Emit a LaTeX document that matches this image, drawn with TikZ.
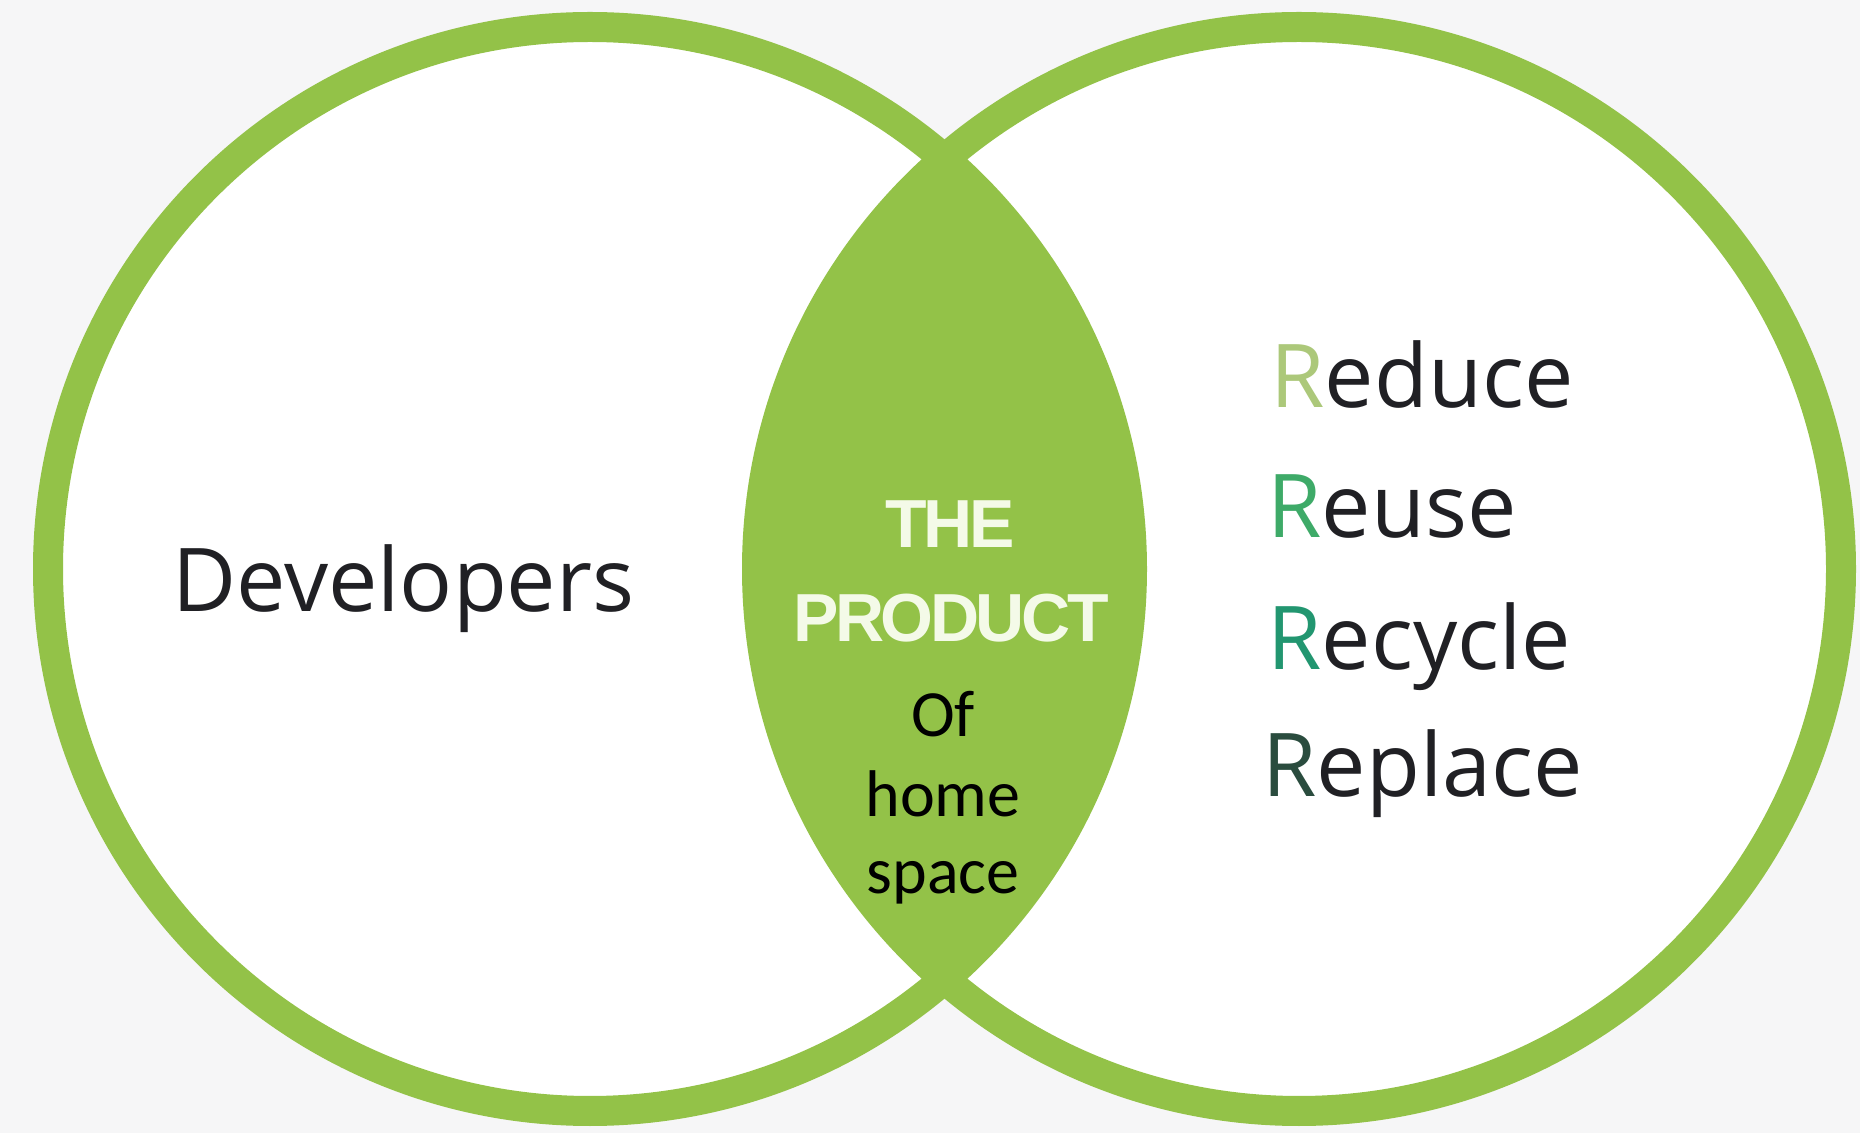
\documentclass[tikz,border=0pt]{standalone}
\usepackage{fontspec}
\setmainfont{Open Sans}
\newfontfamily\prodfont{Liberation Sans}[LetterSpace=-5]
\newfontfamily\calfont{Carlito}
\definecolor{bggray}{RGB}{246,246,247}
\definecolor{ringgreen}{RGB}{147,194,72}
\definecolor{txtdark}{RGB}{32,32,36}
\definecolor{rone}{RGB}{172,200,122}
\definecolor{rtwo}{RGB}{62,170,104}
\definecolor{rthree}{RGB}{34,150,112}
\definecolor{rfour}{RGB}{42,76,62}
\definecolor{prodwhite}{RGB}{244,250,232}
\tikzset{
  ring/.style={draw=ringgreen, line width=15pt},
  bigtxt/.style={inner sep=0pt, anchor=base west, text=txtdark, font=\fontsize{44}{53}\selectfont},
  prodtxt/.style={inner sep=0pt, anchor=base, text=prodwhite, font=\prodfont\bfseries\fontsize{34}{41}\selectfont},
  caltxt/.style={inner sep=0pt, anchor=base, text=black, font=\calfont\fontsize{33}{40}\selectfont}
}
\begin{document}
\begin{tikzpicture}[x=0.5pt,y=-0.5pt]
\useasboundingbox (0,0) rectangle (1860,1133);
\fill[bggray] (0,0) rectangle (1860,1133);
\coordinate (cl) at (590,569);
\coordinate (cr) at (1299,569);
\fill[white] (cl) circle[radius=542];
\fill[white] (cr) circle[radius=542];
\begin{scope}
  \clip (cl) circle[radius=542];
  \fill[ringgreen] (cr) circle[radius=542];
\end{scope}
\draw[ring] (cl) circle[radius=542];
\draw[ring] (cr) circle[radius=542];
% left label
\node[bigtxt] (dev) at (172,612) {Developers};
% centre labels
\node[prodtxt] (the) at (950,548) {THE};
\node[prodtxt] (prod) at (951,642) {PRODUCT};
\node[caltxt] (of) at (943,737) {Of};
\node[caltxt] (home) at (943,817) {home};
\node[caltxt] (space) at (943,894) {space};
% right labels
\node[bigtxt] (reduce) at (1270,408) {\textcolor{rone}{R}educe};
\node[bigtxt] (reuse) at (1267,538) {\textcolor{rtwo}{R}euse};
\node[bigtxt] (recycle) at (1267,670) {\textcolor{rthree}{R}ecycle};
\node[bigtxt] (replace) at (1262,797) {\textcolor{rfour}{R}eplace};
\end{tikzpicture}
\end{document}
